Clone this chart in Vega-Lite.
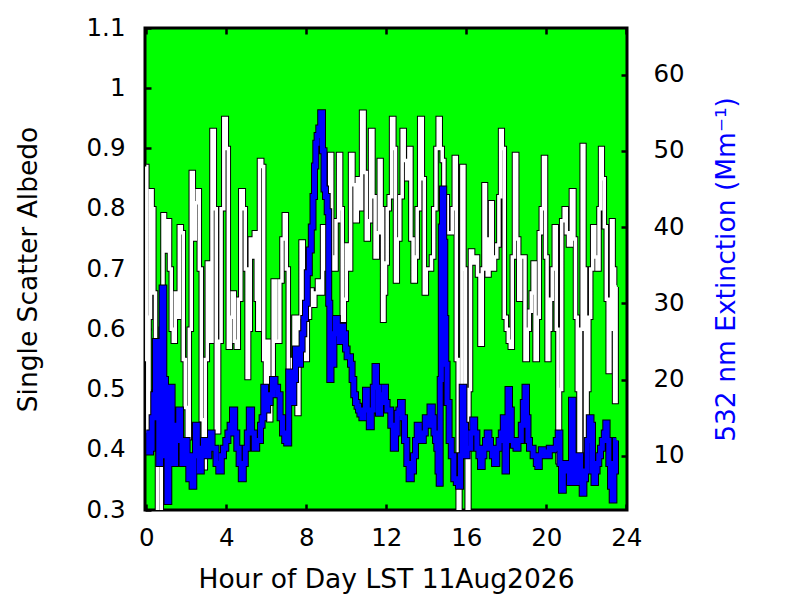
{
  "$schema": "https://vega.github.io/schema/vega-lite/v6.json",
  "width": 482,
  "height": 482,
  "autosize": "none",
  "padding": {"left": 145, "top": 28, "right": 173, "bottom": 90},
  "background": "white",
  "datasets": {
    "albedo": [
      {"hour": 0.00, "ssa": 0.87}, {"hour": 0.05, "ssa": 0.55}, {"hour": 0.10, "ssa": 0.43}, {"hour": 0.17, "ssa": 0.62},
      {"hour": 0.25, "ssa": 0.83}, {"hour": 0.33, "ssa": 0.80}, {"hour": 0.42, "ssa": 0.66}, {"hour": 0.50, "ssa": 0.55},
      {"hour": 0.62, "ssa": 0.29}, {"hour": 0.70, "ssa": 0.29}, {"hour": 0.80, "ssa": 0.60}, {"hour": 0.87, "ssa": 0.79},
      {"hour": 0.95, "ssa": 0.78}, {"hour": 1.05, "ssa": 0.73}, {"hour": 1.12, "ssa": 0.78}, {"hour": 1.20, "ssa": 0.70},
      {"hour": 1.30, "ssa": 0.60}, {"hour": 1.40, "ssa": 0.58}, {"hour": 1.50, "ssa": 0.66}, {"hour": 1.60, "ssa": 0.62},
      {"hour": 1.70, "ssa": 0.77}, {"hour": 1.80, "ssa": 0.76}, {"hour": 1.90, "ssa": 0.55}, {"hour": 2.00, "ssa": 0.47},
      {"hour": 2.10, "ssa": 0.42}, {"hour": 2.20, "ssa": 0.60}, {"hour": 2.30, "ssa": 0.86}, {"hour": 2.40, "ssa": 0.75},
      {"hour": 2.50, "ssa": 0.81}, {"hour": 2.60, "ssa": 0.83}, {"hour": 2.70, "ssa": 0.70}, {"hour": 2.80, "ssa": 0.45},
      {"hour": 2.90, "ssa": 0.37}, {"hour": 3.00, "ssa": 0.55}, {"hour": 3.10, "ssa": 0.71}, {"hour": 3.22, "ssa": 0.58},
      {"hour": 3.35, "ssa": 0.93}, {"hour": 3.45, "ssa": 0.80}, {"hour": 3.55, "ssa": 0.43}, {"hour": 3.68, "ssa": 0.58},
      {"hour": 3.80, "ssa": 0.80}, {"hour": 3.95, "ssa": 0.95}, {"hour": 4.05, "ssa": 0.90}, {"hour": 4.15, "ssa": 0.57},
      {"hour": 4.25, "ssa": 0.62}, {"hour": 4.35, "ssa": 0.66}, {"hour": 4.45, "ssa": 0.58}, {"hour": 4.55, "ssa": 0.57},
      {"hour": 4.65, "ssa": 0.65}, {"hour": 4.80, "ssa": 0.83}, {"hour": 4.90, "ssa": 0.80}, {"hour": 5.00, "ssa": 0.70},
      {"hour": 5.08, "ssa": 0.52}, {"hour": 5.15, "ssa": 0.60}, {"hour": 5.25, "ssa": 0.75}, {"hour": 5.35, "ssa": 0.72},
      {"hour": 5.45, "ssa": 0.76}, {"hour": 5.55, "ssa": 0.65}, {"hour": 5.60, "ssa": 0.60}, {"hour": 5.72, "ssa": 0.88},
      {"hour": 5.82, "ssa": 0.87}, {"hour": 5.92, "ssa": 0.55}, {"hour": 6.00, "ssa": 0.51}, {"hour": 6.08, "ssa": 0.58},
      {"hour": 6.17, "ssa": 0.45}, {"hour": 6.27, "ssa": 0.50}, {"hour": 6.42, "ssa": 0.68}, {"hour": 6.55, "ssa": 0.58},
      {"hour": 6.63, "ssa": 0.58}, {"hour": 6.72, "ssa": 0.68}, {"hour": 6.85, "ssa": 0.75}, {"hour": 6.95, "ssa": 0.79},
      {"hour": 7.05, "ssa": 0.70}, {"hour": 7.15, "ssa": 0.50}, {"hour": 7.25, "ssa": 0.48}, {"hour": 7.35, "ssa": 0.55},
      {"hour": 7.42, "ssa": 0.62}, {"hour": 7.50, "ssa": 0.52}, {"hour": 7.58, "ssa": 0.46}, {"hour": 7.68, "ssa": 0.62},
      {"hour": 7.80, "ssa": 0.745}, {"hour": 7.90, "ssa": 0.60}, {"hour": 8.00, "ssa": 0.55}, {"hour": 8.10, "ssa": 0.62},
      {"hour": 8.22, "ssa": 0.665}, {"hour": 8.35, "ssa": 0.64}, {"hour": 8.50, "ssa": 0.66}, {"hour": 8.62, "ssa": 0.68},
      {"hour": 8.75, "ssa": 0.66}, {"hour": 8.88, "ssa": 0.77}, {"hour": 9.03, "ssa": 0.70}, {"hour": 9.12, "ssa": 0.75},
      {"hour": 9.22, "ssa": 0.89}, {"hour": 9.32, "ssa": 0.72}, {"hour": 9.42, "ssa": 0.70}, {"hour": 9.55, "ssa": 0.78},
      {"hour": 9.68, "ssa": 0.89}, {"hour": 9.75, "ssa": 0.80}, {"hour": 9.85, "ssa": 0.615}, {"hour": 9.95, "ssa": 0.65},
      {"hour": 10.05, "ssa": 0.74}, {"hour": 10.15, "ssa": 0.70}, {"hour": 10.28, "ssa": 0.89}, {"hour": 10.38, "ssa": 0.84},
      {"hour": 10.50, "ssa": 0.78}, {"hour": 10.60, "ssa": 0.85}, {"hour": 10.70, "ssa": 0.80}, {"hour": 10.83, "ssa": 0.96},
      {"hour": 10.95, "ssa": 0.86}, {"hour": 11.05, "ssa": 0.75}, {"hour": 11.15, "ssa": 0.78}, {"hour": 11.28, "ssa": 0.93},
      {"hour": 11.38, "ssa": 0.82}, {"hour": 11.50, "ssa": 0.72}, {"hour": 11.60, "ssa": 0.76}, {"hour": 11.70, "ssa": 0.88},
      {"hour": 11.78, "ssa": 0.80}, {"hour": 11.85, "ssa": 0.615}, {"hour": 11.92, "ssa": 0.66}, {"hour": 12.00, "ssa": 0.71},
      {"hour": 12.09, "ssa": 0.80}, {"hour": 12.20, "ssa": 0.82}, {"hour": 12.33, "ssa": 0.95}, {"hour": 12.42, "ssa": 0.90},
      {"hour": 12.50, "ssa": 0.68}, {"hour": 12.60, "ssa": 0.75}, {"hour": 12.75, "ssa": 0.82}, {"hour": 12.84, "ssa": 0.93},
      {"hour": 12.95, "ssa": 0.88}, {"hour": 13.08, "ssa": 0.85}, {"hour": 13.18, "ssa": 0.90}, {"hour": 13.28, "ssa": 0.75},
      {"hour": 13.40, "ssa": 0.68}, {"hour": 13.50, "ssa": 0.72}, {"hour": 13.59, "ssa": 0.80}, {"hour": 13.75, "ssa": 0.95},
      {"hour": 13.85, "ssa": 0.85}, {"hour": 13.95, "ssa": 0.66}, {"hour": 14.05, "ssa": 0.70}, {"hour": 14.20, "ssa": 0.70},
      {"hour": 14.32, "ssa": 0.72}, {"hour": 14.42, "ssa": 0.80}, {"hour": 14.55, "ssa": 0.90}, {"hour": 14.64, "ssa": 0.95},
      {"hour": 14.75, "ssa": 0.90}, {"hour": 14.84, "ssa": 0.88}, {"hour": 14.92, "ssa": 0.79}, {"hour": 15.00, "ssa": 0.82},
      {"hour": 15.10, "ssa": 0.76}, {"hour": 15.25, "ssa": 0.76}, {"hour": 15.35, "ssa": 0.80}, {"hour": 15.45, "ssa": 0.885},
      {"hour": 15.55, "ssa": 0.55}, {"hour": 15.64, "ssa": 0.29}, {"hour": 15.72, "ssa": 0.40}, {"hour": 15.84, "ssa": 0.87},
      {"hour": 15.92, "ssa": 0.70}, {"hour": 16.00, "ssa": 0.40}, {"hour": 16.09, "ssa": 0.29}, {"hour": 16.17, "ssa": 0.50},
      {"hour": 16.25, "ssa": 0.73}, {"hour": 16.38, "ssa": 0.71}, {"hour": 16.50, "ssa": 0.72}, {"hour": 16.62, "ssa": 0.69},
      {"hour": 16.75, "ssa": 0.575}, {"hour": 16.85, "ssa": 0.70}, {"hour": 16.92, "ssa": 0.84}, {"hour": 17.00, "ssa": 0.75},
      {"hour": 17.09, "ssa": 0.69}, {"hour": 17.18, "ssa": 0.74}, {"hour": 17.25, "ssa": 0.81}, {"hour": 17.35, "ssa": 0.70},
      {"hour": 17.47, "ssa": 0.72}, {"hour": 17.58, "ssa": 0.74}, {"hour": 17.68, "ssa": 0.82}, {"hour": 17.75, "ssa": 0.93},
      {"hour": 17.85, "ssa": 0.90}, {"hour": 17.95, "ssa": 0.62}, {"hour": 18.05, "ssa": 0.60}, {"hour": 18.15, "ssa": 0.58},
      {"hour": 18.25, "ssa": 0.57}, {"hour": 18.35, "ssa": 0.72}, {"hour": 18.47, "ssa": 0.89}, {"hour": 18.57, "ssa": 0.75},
      {"hour": 18.67, "ssa": 0.65}, {"hour": 18.77, "ssa": 0.72}, {"hour": 18.87, "ssa": 0.72}, {"hour": 19.00, "ssa": 0.55},
      {"hour": 19.10, "ssa": 0.60}, {"hour": 19.20, "ssa": 0.63}, {"hour": 19.30, "ssa": 0.66}, {"hour": 19.38, "ssa": 0.71},
      {"hour": 19.50, "ssa": 0.55}, {"hour": 19.60, "ssa": 0.62}, {"hour": 19.70, "ssa": 0.76}, {"hour": 19.80, "ssa": 0.80},
      {"hour": 19.92, "ssa": 0.885}, {"hour": 20.00, "ssa": 0.72}, {"hour": 20.08, "ssa": 0.55}, {"hour": 20.17, "ssa": 0.60},
      {"hour": 20.25, "ssa": 0.65}, {"hour": 20.35, "ssa": 0.70}, {"hour": 20.45, "ssa": 0.77}, {"hour": 20.55, "ssa": 0.60},
      {"hour": 20.62, "ssa": 0.38}, {"hour": 20.70, "ssa": 0.50}, {"hour": 20.84, "ssa": 0.78}, {"hour": 20.95, "ssa": 0.80},
      {"hour": 21.05, "ssa": 0.76}, {"hour": 21.17, "ssa": 0.74}, {"hour": 21.34, "ssa": 0.83}, {"hour": 21.42, "ssa": 0.75},
      {"hour": 21.50, "ssa": 0.62}, {"hour": 21.60, "ssa": 0.50}, {"hour": 21.67, "ssa": 0.375}, {"hour": 21.75, "ssa": 0.60},
      {"hour": 21.84, "ssa": 0.905}, {"hour": 21.92, "ssa": 0.70}, {"hour": 22.00, "ssa": 0.375}, {"hour": 22.08, "ssa": 0.50},
      {"hour": 22.17, "ssa": 0.62}, {"hour": 22.27, "ssa": 0.70}, {"hour": 22.37, "ssa": 0.77}, {"hour": 22.48, "ssa": 0.72},
      {"hour": 22.59, "ssa": 0.70}, {"hour": 22.68, "ssa": 0.80}, {"hour": 22.75, "ssa": 0.90}, {"hour": 22.85, "ssa": 0.85},
      {"hour": 22.95, "ssa": 0.77}, {"hour": 23.05, "ssa": 0.65}, {"hour": 23.14, "ssa": 0.53}, {"hour": 23.22, "ssa": 0.60},
      {"hour": 23.30, "ssa": 0.78}, {"hour": 23.38, "ssa": 0.70}, {"hour": 23.45, "ssa": 0.48}, {"hour": 23.53, "ssa": 0.67}
    ],
    "extinction": [
      {"hour": 0.00, "ext": 13}, {"hour": 0.08, "ext": 13}, {"hour": 0.17, "ext": 10.5}, {"hour": 0.25, "ext": 11},
      {"hour": 0.33, "ext": 15}, {"hour": 0.42, "ext": 18}, {"hour": 0.50, "ext": 25}, {"hour": 0.58, "ext": 15},
      {"hour": 0.67, "ext": 9}, {"hour": 0.75, "ext": 22}, {"hour": 0.83, "ext": 32}, {"hour": 0.92, "ext": 20},
      {"hour": 1.00, "ext": 10}, {"hour": 1.08, "ext": 4}, {"hour": 1.17, "ext": 10}, {"hour": 1.25, "ext": 19},
      {"hour": 1.33, "ext": 14}, {"hour": 1.42, "ext": 9}, {"hour": 1.50, "ext": 12}, {"hour": 1.58, "ext": 14},
      {"hour": 1.67, "ext": 16}, {"hour": 1.75, "ext": 12}, {"hour": 1.83, "ext": 9}, {"hour": 1.92, "ext": 11},
      {"hour": 2.00, "ext": 12}, {"hour": 2.08, "ext": 10}, {"hour": 2.17, "ext": 7}, {"hour": 2.25, "ext": 8},
      {"hour": 2.33, "ext": 6}, {"hour": 2.42, "ext": 10}, {"hour": 2.50, "ext": 14}, {"hour": 2.60, "ext": 11},
      {"hour": 2.70, "ext": 8}, {"hour": 2.80, "ext": 10}, {"hour": 2.92, "ext": 12}, {"hour": 3.00, "ext": 11},
      {"hour": 3.08, "ext": 10}, {"hour": 3.17, "ext": 12}, {"hour": 3.25, "ext": 13}, {"hour": 3.33, "ext": 11},
      {"hour": 3.42, "ext": 11}, {"hour": 3.55, "ext": 9}, {"hour": 3.70, "ext": 8}, {"hour": 3.80, "ext": 10},
      {"hour": 3.92, "ext": 11}, {"hour": 4.03, "ext": 12}, {"hour": 4.13, "ext": 13}, {"hour": 4.25, "ext": 14},
      {"hour": 4.37, "ext": 16}, {"hour": 4.47, "ext": 13}, {"hour": 4.58, "ext": 11}, {"hour": 4.70, "ext": 9},
      {"hour": 4.80, "ext": 7}, {"hour": 4.90, "ext": 9}, {"hour": 5.00, "ext": 11}, {"hour": 5.10, "ext": 13},
      {"hour": 5.20, "ext": 16}, {"hour": 5.33, "ext": 13}, {"hour": 5.47, "ext": 11}, {"hour": 5.57, "ext": 12},
      {"hour": 5.67, "ext": 12}, {"hour": 5.75, "ext": 14}, {"hour": 5.83, "ext": 15}, {"hour": 5.92, "ext": 19},
      {"hour": 6.00, "ext": 16}, {"hour": 6.13, "ext": 17}, {"hour": 6.25, "ext": 18}, {"hour": 6.37, "ext": 20},
      {"hour": 6.50, "ext": 19}, {"hour": 6.63, "ext": 18}, {"hour": 6.75, "ext": 15}, {"hour": 6.87, "ext": 13},
      {"hour": 6.97, "ext": 12}, {"hour": 7.07, "ext": 11.7}, {"hour": 7.17, "ext": 21}, {"hour": 7.25, "ext": 18},
      {"hour": 7.33, "ext": 17}, {"hour": 7.42, "ext": 20}, {"hour": 7.50, "ext": 24}, {"hour": 7.58, "ext": 23},
      {"hour": 7.67, "ext": 22}, {"hour": 7.75, "ext": 24}, {"hour": 7.83, "ext": 26}, {"hour": 7.92, "ext": 28},
      {"hour": 8.00, "ext": 30}, {"hour": 8.10, "ext": 34}, {"hour": 8.20, "ext": 37}, {"hour": 8.30, "ext": 40},
      {"hour": 8.37, "ext": 44}, {"hour": 8.45, "ext": 48}, {"hour": 8.50, "ext": 51}, {"hour": 8.58, "ext": 52},
      {"hour": 8.67, "ext": 53}, {"hour": 8.77, "ext": 55}, {"hour": 8.85, "ext": 50}, {"hour": 8.92, "ext": 45},
      {"hour": 9.00, "ext": 44}, {"hour": 9.09, "ext": 42}, {"hour": 9.15, "ext": 30}, {"hour": 9.20, "ext": 20},
      {"hour": 9.27, "ext": 22}, {"hour": 9.34, "ext": 22}, {"hour": 9.42, "ext": 26}, {"hour": 9.50, "ext": 28},
      {"hour": 9.60, "ext": 27}, {"hour": 9.70, "ext": 25}, {"hour": 9.80, "ext": 27}, {"hour": 9.92, "ext": 26},
      {"hour": 10.00, "ext": 24}, {"hour": 10.08, "ext": 23}, {"hour": 10.17, "ext": 23}, {"hour": 10.25, "ext": 22},
      {"hour": 10.33, "ext": 20}, {"hour": 10.42, "ext": 18}, {"hour": 10.50, "ext": 17}, {"hour": 10.58, "ext": 16.5},
      {"hour": 10.64, "ext": 16}, {"hour": 10.72, "ext": 15.5}, {"hour": 10.84, "ext": 15}, {"hour": 10.92, "ext": 16},
      {"hour": 11.00, "ext": 18.6}, {"hour": 11.10, "ext": 16}, {"hour": 11.20, "ext": 13.8}, {"hour": 11.30, "ext": 16},
      {"hour": 11.40, "ext": 19}, {"hour": 11.47, "ext": 21.7}, {"hour": 11.55, "ext": 19}, {"hour": 11.67, "ext": 15.6},
      {"hour": 11.75, "ext": 17}, {"hour": 11.84, "ext": 18}, {"hour": 11.92, "ext": 19}, {"hour": 12.00, "ext": 17},
      {"hour": 12.08, "ext": 16}, {"hour": 12.17, "ext": 16}, {"hour": 12.28, "ext": 14}, {"hour": 12.42, "ext": 11},
      {"hour": 12.50, "ext": 13}, {"hour": 12.59, "ext": 15.6}, {"hour": 12.67, "ext": 16}, {"hour": 12.75, "ext": 17},
      {"hour": 12.85, "ext": 15}, {"hour": 12.97, "ext": 12}, {"hour": 13.08, "ext": 9}, {"hour": 13.20, "ext": 7},
      {"hour": 13.30, "ext": 8}, {"hour": 13.42, "ext": 10}, {"hour": 13.50, "ext": 12}, {"hour": 13.59, "ext": 14},
      {"hour": 13.70, "ext": 13}, {"hour": 13.80, "ext": 12}, {"hour": 13.90, "ext": 13}, {"hour": 14.00, "ext": 15},
      {"hour": 14.12, "ext": 14}, {"hour": 14.25, "ext": 16.4}, {"hour": 14.35, "ext": 15}, {"hour": 14.42, "ext": 13},
      {"hour": 14.50, "ext": 12}, {"hour": 14.55, "ext": 11}, {"hour": 14.62, "ext": 8}, {"hour": 14.67, "ext": 6.4},
      {"hour": 14.72, "ext": 20}, {"hour": 14.78, "ext": 40}, {"hour": 14.84, "ext": 45}, {"hour": 14.90, "ext": 38},
      {"hour": 14.95, "ext": 28}, {"hour": 15.00, "ext": 22}, {"hour": 15.08, "ext": 17}, {"hour": 15.20, "ext": 12},
      {"hour": 15.30, "ext": 10}, {"hour": 15.45, "ext": 7}, {"hour": 15.55, "ext": 6.5}, {"hour": 15.67, "ext": 6},
      {"hour": 15.75, "ext": 10}, {"hour": 15.84, "ext": 19}, {"hour": 15.92, "ext": 14}, {"hour": 16.00, "ext": 10},
      {"hour": 16.08, "ext": 11}, {"hour": 16.17, "ext": 11}, {"hour": 16.27, "ext": 13}, {"hour": 16.37, "ext": 14.7},
      {"hour": 16.47, "ext": 13}, {"hour": 16.59, "ext": 11}, {"hour": 16.67, "ext": 10}, {"hour": 16.75, "ext": 8.6},
      {"hour": 16.84, "ext": 10}, {"hour": 16.92, "ext": 11}, {"hour": 17.00, "ext": 12}, {"hour": 17.09, "ext": 13},
      {"hour": 17.17, "ext": 12}, {"hour": 17.25, "ext": 11}, {"hour": 17.35, "ext": 10}, {"hour": 17.47, "ext": 9},
      {"hour": 17.58, "ext": 11}, {"hour": 17.70, "ext": 12}, {"hour": 17.80, "ext": 13}, {"hour": 17.90, "ext": 15},
      {"hour": 17.97, "ext": 8}, {"hour": 18.05, "ext": 12}, {"hour": 18.12, "ext": 18.7}, {"hour": 18.20, "ext": 16},
      {"hour": 18.30, "ext": 12}, {"hour": 18.42, "ext": 11.4}, {"hour": 18.55, "ext": 11}, {"hour": 18.62, "ext": 12},
      {"hour": 18.70, "ext": 12}, {"hour": 18.80, "ext": 14}, {"hour": 18.90, "ext": 17}, {"hour": 18.97, "ext": 19},
      {"hour": 19.05, "ext": 15}, {"hour": 19.12, "ext": 12}, {"hour": 19.20, "ext": 11}, {"hour": 19.30, "ext": 11},
      {"hour": 19.38, "ext": 10}, {"hour": 19.45, "ext": 10}, {"hour": 19.55, "ext": 9}, {"hour": 19.60, "ext": 8.6},
      {"hour": 19.70, "ext": 10}, {"hour": 19.80, "ext": 10.8}, {"hour": 19.90, "ext": 10}, {"hour": 20.00, "ext": 10.5},
      {"hour": 20.10, "ext": 10}, {"hour": 20.20, "ext": 11}, {"hour": 20.34, "ext": 10.8}, {"hour": 20.45, "ext": 11},
      {"hour": 20.55, "ext": 12}, {"hour": 20.64, "ext": 13}, {"hour": 20.72, "ext": 9}, {"hour": 20.80, "ext": 5.5},
      {"hour": 20.90, "ext": 8}, {"hour": 21.00, "ext": 9}, {"hour": 21.10, "ext": 8}, {"hour": 21.22, "ext": 6.5},
      {"hour": 21.30, "ext": 17.3}, {"hour": 21.38, "ext": 10}, {"hour": 21.50, "ext": 6.5}, {"hour": 21.58, "ext": 8},
      {"hour": 21.67, "ext": 10}, {"hour": 21.75, "ext": 7}, {"hour": 21.84, "ext": 5.1}, {"hour": 21.92, "ext": 7},
      {"hour": 22.00, "ext": 8}, {"hour": 22.10, "ext": 12}, {"hour": 22.20, "ext": 15}, {"hour": 22.27, "ext": 14},
      {"hour": 22.35, "ext": 8}, {"hour": 22.42, "ext": 6.5}, {"hour": 22.50, "ext": 8}, {"hour": 22.58, "ext": 9},
      {"hour": 22.67, "ext": 10}, {"hour": 22.75, "ext": 11}, {"hour": 22.85, "ext": 12}, {"hour": 22.95, "ext": 13},
      {"hour": 23.00, "ext": 14.3}, {"hour": 23.08, "ext": 12}, {"hour": 23.17, "ext": 9}, {"hour": 23.25, "ext": 6},
      {"hour": 23.34, "ext": 4.2}, {"hour": 23.42, "ext": 8}, {"hour": 23.50, "ext": 12}
    ]
  },
  "layer": [
    {
      "data": {"name": "albedo"},
      "encoding": {
        "x": {
          "field": "hour",
          "type": "quantitative",
          "scale": {"domain": [-0.065, 24.035], "nice": false, "zero": false},
          "axis": {
            "orient": "bottom",
            "values": [0, 4, 8, 12, 16, 20, 24],
            "labelFlush": false,
            "labelPadding": 22,
            "title": "Hour of Day LST 11Aug2026",
            "titleX": 241,
            "titleY": 77,
            "titleBaseline": "alphabetic",
            "titleAlign": "center"
          }
        },
        "y": {
          "field": "ssa",
          "type": "quantitative",
          "scale": {"domain": [0.3, 1.1], "nice": false, "zero": false},
          "axis": {
            "orient": "left",
            "values": [0.3, 0.4, 0.5, 0.6, 0.7, 0.8, 0.9, 1, 1.1],
            "format": ".2~f",
            "labelPadding": 26,
            "title": "Single Scatter Albedo",
            "titleX": -117,
            "titleY": 241,
            "titleAngle": 270,
            "titleBaseline": "middle",
            "titleAlign": "center"
          }
        }
      },
      "layer": [
        {"mark": {"type": "line", "color": "black", "strokeWidth": 5.5, "interpolate": "step", "clip": true}},
        {"mark": {"type": "line", "color": "white", "strokeWidth": 3.5, "interpolate": "step", "clip": true}}
      ]
    },
    {
      "data": {"name": "extinction"},
      "encoding": {
        "x": {
          "field": "hour",
          "type": "quantitative",
          "scale": {"domain": [-0.065, 24.035], "nice": false, "zero": false},
          "axis": {
            "orient": "top",
            "values": [0, 4, 8, 12, 16, 20, 24],
            "labels": false,
            "title": null
          }
        },
        "y": {
          "field": "ext",
          "type": "quantitative",
          "scale": {"domain": [2.9, 66.1], "nice": false, "zero": false},
          "axis": {
            "orient": "right",
            "values": [10, 20, 30, 40, 50, 60],
            "labelPadding": 32,
            "title": "532 nm Extinction (Mm⁻¹)",
            "titleColor": "#0000ff",
            "titleX": 99,
            "titleY": 241,
            "titleAngle": 270,
            "titleBaseline": "middle",
            "titleAlign": "center"
          }
        }
      },
      "layer": [
        {"mark": {"type": "line", "color": "black", "strokeWidth": 7, "interpolate": "step", "clip": true}},
        {"mark": {"type": "line", "color": "#0000ff", "strokeWidth": 5, "interpolate": "step", "clip": true}}
      ]
    }
  ],
  "resolve": {"scale": {"y": "independent"}, "axis": {"x": "independent"}},
  "config": {
    "view": {"fill": "#00ff00", "stroke": "black", "strokeWidth": 3},
    "axis": {
      "domain": false,
      "grid": false,
      "ticks": true,
      "tickSize": -6,
      "tickWidth": 2.5,
      "tickColor": "black",
      "labelFont": "DejaVu Sans",
      "labelFontSize": 24.5,
      "labelColor": "black",
      "titleFont": "DejaVu Sans",
      "titleFontSize": 26.5,
      "titleFontWeight": "normal",
      "titleColor": "black"
    }
  }
}
